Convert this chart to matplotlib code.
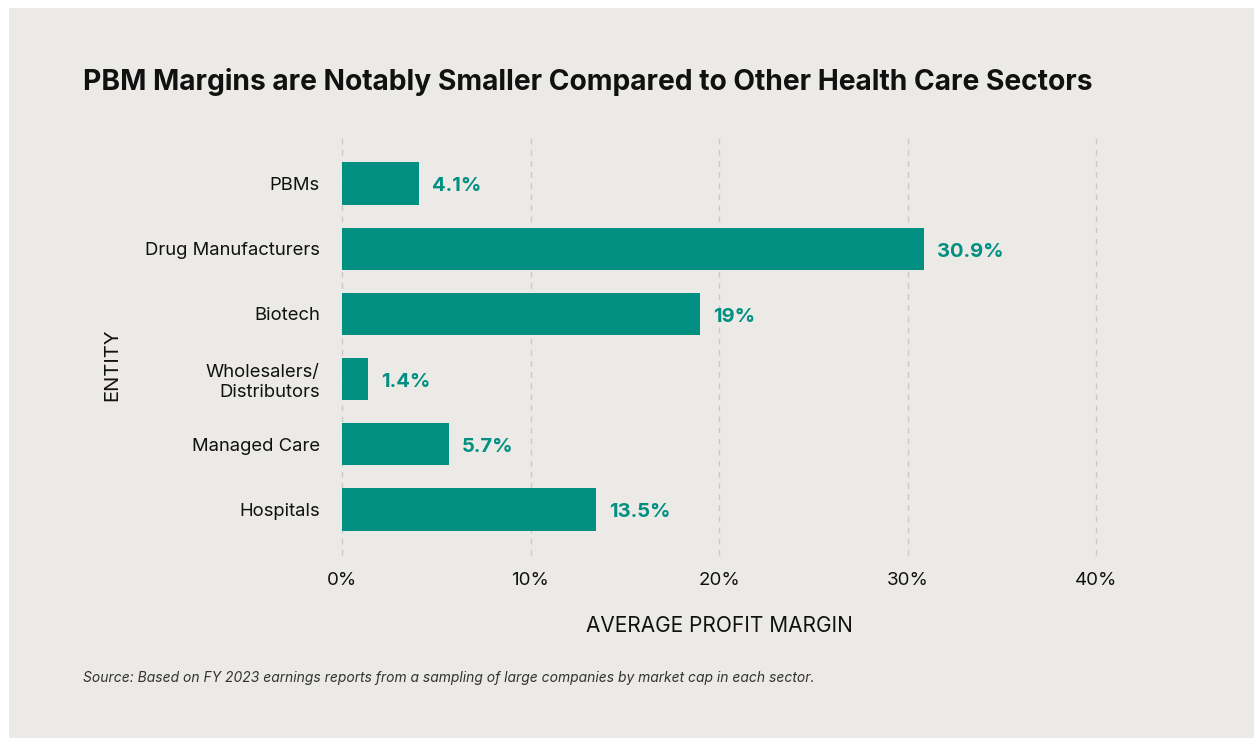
import matplotlib.pyplot as plt
from matplotlib.patches import Rectangle

# Average profit margin by health care sector (FY 2023)
entities = [
    "PBMs",
    "Drug Manufacturers",
    "Biotech",
    "Wholesalers/\nDistributors",
    "Managed Care",
    "Hospitals",
]
margins = [4.1, 30.9, 19, 1.4, 5.7, 13.5]
value_labels = ["4.1%", "30.9%", "19%", "1.4%", "5.7%", "13.5%"]
xticks = [0, 10, 20, 30, 40]
xtick_labels = ["0%", "10%", "20%", "30%", "40%"]

BG = "#EBEAE7"
TEAL = "#008F80"
TEXT = "#111111"

plt.rcParams["font.family"] = ["Inter", "DejaVu Sans"]

W, H = 1254, 741
fig = plt.figure(figsize=(W / 100, H / 100), dpi=100)
fig.patch.set_facecolor("white")
# gray card behind everything
fig.add_artist(Rectangle((9 / W, 3 / H), 1 - 9 / W, (H - 8 - 3) / H,
                         transform=fig.transFigure, facecolor=BG,
                         edgecolor="none", zorder=-10))

ax = fig.add_axes([342 / W, 1 - 555 / H, (1096 - 342) / W, (555 - 138) / H])
ax.set_facecolor("none")

ypos = list(range(len(entities)))
ax.barh(ypos, margins, height=0.65, color=TEAL, zorder=3)
for y, v, lab in zip(ypos, margins, value_labels):
    ax.annotate(lab, (v, y), xytext=(9, -2), textcoords="offset points",
                va="center", ha="left", fontsize=14.5, fontweight="bold",
                color=TEAL)

ax.set_xlim(0, 40)
ax.set_ylim(len(entities) - 0.3, -0.7)
ax.set_xticks(xticks)
ax.set_xticklabels(xtick_labels, fontsize=13.5, color=TEXT)
ax.set_yticks(ypos)
ax.set_yticklabels(entities, fontsize=13.3, color=TEXT, linespacing=1.2)
ax.tick_params(axis="both", length=0)
ax.tick_params(axis="x", pad=12)
ax.tick_params(axis="y", pad=16)
ax.grid(axis="x", color="#C9C9C6", linestyle=(0, (4, 4)), linewidth=1, zorder=0)
for gl in ax.xaxis.get_gridlines():
    gl.set_clip_on(False)
for s in ax.spines.values():
    s.set_visible(False)

ax.set_xlabel("AVERAGE PROFIT MARGIN", fontsize=15, color=TEXT, labelpad=20)
ax.set_ylabel("ENTITY", fontsize=14.5, color=TEXT)
ax.yaxis.set_label_coords(-0.293, 0.456)

fig.text(83 / W, 1 - 82 / H, "PBM Margins are Notably Smaller Compared to Other Health Care Sectors",
         fontsize=20.3, fontweight="bold", color=TEXT, va="center", ha="left")
fig.text(83 / W, 1 - 678 / H,
         "Source: Based on FY 2023 earnings reports from a sampling of large companies by market cap in each sector.",
         fontsize=10, style="italic", color="#333333", va="center", ha="left")

fig.savefig("out.png", dpi=100, facecolor=fig.get_facecolor())
